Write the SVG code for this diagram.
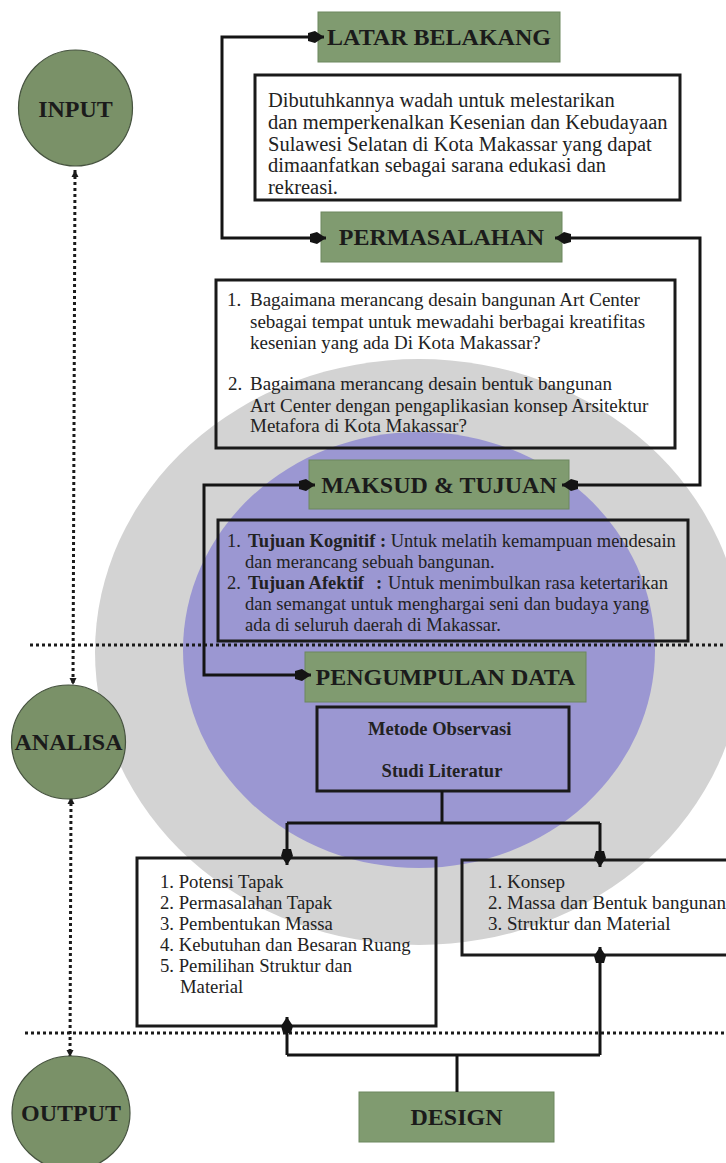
<svg xmlns="http://www.w3.org/2000/svg" width="726" height="1163" viewBox="0 0 726 1163">
<defs>
<style>
.hdr{font-family:"Liberation Serif","Times New Roman",serif;font-weight:bold;font-size:24px;fill:#1b1b1b;text-anchor:middle}
.body{font-family:"Liberation Serif","Times New Roman",serif;fill:#222}
.b{font-weight:bold}
.gbox{fill:#809b70;stroke:#6d875f;stroke-width:1}
.circ{fill:#7a9168;stroke:#46533f;stroke-width:1.2}
.tbox{fill:none;stroke:#1a1a1a;stroke-width:3}
.conn{fill:none;stroke:#141414;stroke-width:3}
.dot{fill:none;stroke:#1a1a1a;stroke-width:3;stroke-dasharray:3 3}
</style>
<marker id="ah" markerUnits="userSpaceOnUse" markerWidth="20" markerHeight="16" refX="0" refY="0" viewBox="-18 -8 20 16" orient="auto-start-reverse">
<path d="M0,0 L-9,-6 L-16,-4 L-16,4 L-9,6 Z" fill="#141414"/>
</marker>
<marker id="dh" markerUnits="userSpaceOnUse" markerWidth="10" markerHeight="10" refX="0" refY="0" viewBox="-8 -5 10 10" orient="auto-start-reverse">
<path d="M0,0 L-7,-3.5 L-7,3.5 Z" fill="#1a1a1a"/>
</marker>
</defs>
<rect width="726" height="1163" fill="#ffffff"/>
<g id="background">
<ellipse cx="419" cy="652" rx="324" ry="293" fill="#d3d3d3"/>
<ellipse cx="419" cy="650" rx="236" ry="218" fill="#9b97d2"/>
</g>
<g id="dividers">
<line class="dot" x1="30" y1="645" x2="726" y2="645"/>
<line class="dot" x1="25" y1="1033" x2="726" y2="1033"/>
<path class="dot" d="M75,170 L73,685" marker-start="url(#dh)" marker-end="url(#dh)"/>
<path class="dot" d="M71,797 L70,1057" marker-start="url(#dh)" marker-end="url(#dh)"/>
</g>
<g id="input">
<ellipse class="circ" cx="75.5" cy="108" rx="57" ry="58"/>
<text class="hdr" x="75.5" y="117">INPUT</text>
</g>
<g id="analisa">
<ellipse class="circ" cx="68.5" cy="742" rx="57" ry="57"/>
<text class="hdr" x="68.5" y="750">ANALISA</text>
</g>
<g id="output">
<ellipse class="circ" cx="71" cy="1113" rx="59" ry="57"/>
<text class="hdr" x="71" y="1121">OUTPUT</text>
</g>
<g id="latar-belakang">
<rect class="gbox" x="318" y="12" width="242" height="50"/>
<text class="hdr" x="439" y="45">LATAR BELAKANG</text>
</g>
<g id="latar-text">
<rect class="tbox" x="255" y="75" width="425" height="125" style="fill:#ffffff"/>
<text class="body" font-size="20.5">
<tspan x="268" y="107">Dibutuhkannya wadah untuk melestarikan</tspan>
<tspan x="268" y="129">dan memperkenalkan Kesenian dan Kebudayaan</tspan>
<tspan x="268" y="151">Sulawesi Selatan di Kota Makassar yang dapat</tspan>
<tspan x="268" y="172">dimaanfatkan sebagai sarana edukasi dan</tspan>
<tspan x="268" y="194">rekreasi.</tspan>
</text>
</g>
<g id="permasalahan">
<rect class="gbox" x="321" y="212" width="241" height="50"/>
<text class="hdr" x="441.5" y="245">PERMASALAHAN</text>
</g>
<g id="permasalahan-text">
<rect class="tbox" x="216" y="280" width="459" height="168"/>
<text class="body" font-size="19">
<tspan x="227" y="306">1.</tspan><tspan x="250" y="306">Bagaimana merancang desain bangunan Art Center</tspan>
<tspan x="250" y="328">sebagai tempat untuk mewadahi berbagai kreatifitas</tspan>
<tspan x="250" y="349">kesenian yang ada Di Kota Makassar?</tspan>
<tspan x="228" y="390">2.</tspan><tspan x="250" y="390">Bagaimana merancang desain bentuk bangunan</tspan>
<tspan x="250" y="412">Art Center dengan pengaplikasian konsep Arsitektur</tspan>
<tspan x="250" y="432">Metafora di Kota Makassar?</tspan>
</text>
</g>
<g id="maksud-tujuan">
<rect class="gbox" x="309" y="460" width="260" height="49"/>
<text class="hdr" x="439" y="493">MAKSUD &amp; TUJUAN</text>
</g>
<g id="tujuan-text">
<rect class="tbox" x="218" y="520" width="470" height="121"/>
<text class="body" font-size="18.5">
<tspan x="227" y="547">1. </tspan><tspan x="248" y="547" class="b">Tujuan Kognitif :</tspan><tspan> Untuk melatih kemampuan mendesain</tspan>
<tspan x="245" y="568">dan merancang sebuah bangunan.</tspan>
<tspan x="227" y="589">2. </tspan><tspan x="248" y="589" class="b">Tujuan Afektif</tspan><tspan x="376" y="589" class="b">:</tspan><tspan x="388" y="589">Untuk menimbulkan rasa ketertarikan</tspan>
<tspan x="245" y="610">dan semangat untuk menghargai seni dan budaya yang</tspan>
<tspan x="245" y="631">ada di seluruh daerah di Makassar.</tspan>
</text>
</g>
<g id="pengumpulan-data">
<rect class="gbox" x="305" y="652" width="281" height="50"/>
<text class="hdr" x="445.5" y="685">PENGUMPULAN DATA</text>
</g>
<g id="metode">
<rect class="tbox" x="317" y="707" width="252" height="84"/>
<text class="body b" font-size="18.5" text-anchor="middle">
<tspan x="442" y="735">Metode Observasi</tspan>
<tspan x="442" y="777">Studi Literatur</tspan>
</text>
</g>
<g id="analisa-tapak">
<rect class="tbox" x="137" y="858" width="299" height="168"/>
<text class="body" font-size="18.7">
<tspan x="160" y="888">1. Potensi Tapak</tspan>
<tspan x="160" y="909">2. Permasalahan Tapak</tspan>
<tspan x="160" y="930">3. Pembentukan Massa</tspan>
<tspan x="160" y="951">4. Kebutuhan dan Besaran Ruang</tspan>
<tspan x="160" y="972">5. Pemilihan Struktur dan</tspan>
<tspan x="180" y="993">Material</tspan>
</text>
</g>
<g id="analisa-konsep">
<rect class="tbox" x="462" y="860" width="280" height="95"/>
<text class="body" font-size="19">
<tspan x="488" y="888">1. Konsep</tspan>
<tspan x="488" y="909">2. Massa dan Bentuk bangunan</tspan>
<tspan x="488" y="930">3. Struktur dan Material</tspan>
</text>
</g>
<g id="design">
<rect class="gbox" x="359" y="1092" width="195" height="50"/>
<text class="hdr" x="456.5" y="1125">DESIGN</text>
</g>
<g id="connectors">
<path class="conn" d="M324,37 H222 V238 H326" marker-start="url(#ah)" marker-end="url(#ah)"/>
<path class="conn" d="M555,238 H700 V485 H562" marker-start="url(#ah)" marker-end="url(#ah)"/>
<path class="conn" d="M315,485 H204 V675 H311" marker-start="url(#ah)" marker-end="url(#ah)"/>
<path class="conn" d="M442,791 V823"/>
<path class="conn" d="M287,823 H600"/>
<path class="conn" d="M287,823 V865" marker-end="url(#ah)"/>
<path class="conn" d="M600,823 V867" marker-end="url(#ah)"/>
<path class="conn" d="M457,1092 V1055"/>
<path class="conn" d="M287,1055 H600"/>
<path class="conn" d="M287,1055 V1017" marker-end="url(#ah)"/>
<path class="conn" d="M600,1055 V947" marker-end="url(#ah)"/>
</g>
</svg>
